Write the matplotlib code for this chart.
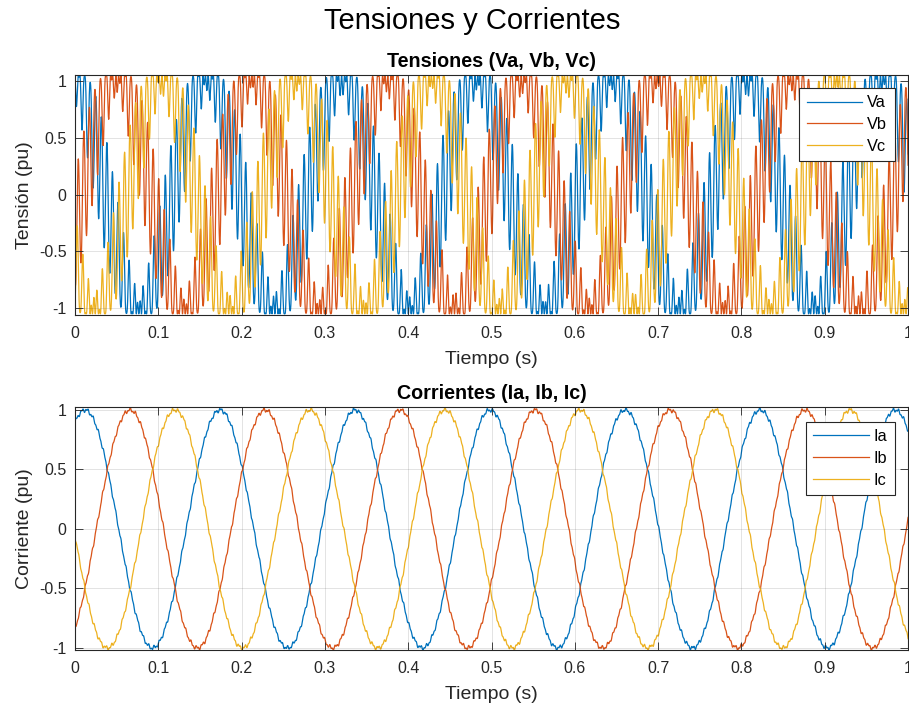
import numpy as np
import matplotlib.pyplot as plt

plt.rcParams["font.family"] = ["Liberation Sans", "DejaVu Sans"]
plt.rcParams["axes.unicode_minus"] = False

# signal description (1 s record)
n_samples = 10001
f_fund = 6.17              # Hz, apparent fundamental
va_peak_time = -0.004      # s, first Va maximum
ia_peak_time = 0.012       # s, first Ia maximum
phase_offsets_deg = [0, -120, 120]

v_amp = 1.05
v_wobble_amp = 0.52        # rad, fast phase wobble on V
v_wobble_freq = 150.0      # Hz

i_amp = 1.0
i_ripple_amp = [0.012, 0.009]
i_ripple_freq = [150.0, 330.0]   # Hz

v_labels = ["Va", "Vb", "Vc"]
i_labels = ["Ia", "Ib", "Ic"]

x_ticks = [0, 0.1, 0.2, 0.3, 0.4, 0.5, 0.6, 0.7, 0.8, 0.9, 1.0]
x_tick_labels = ["0", "0.1", "0.2", "0.3", "0.4", "0.5", "0.6", "0.7", "0.8", "0.9", "1"]
y_ticks = [-1, -0.5, 0, 0.5, 1]
y_tick_labels = ["-1", "-0.5", "0", "0.5", "1"]

colors = ["#0072BD", "#D95319", "#EDB120"]
dark = "#262626"

t = np.linspace(0, 1, n_samples)

volts = []
currents = []
for k, off in enumerate(phase_offsets_deg):
    ph = np.deg2rad(off)
    wobble = v_wobble_amp * np.sin(2 * np.pi * v_wobble_freq * t + ph)
    volts.append(v_amp * np.cos(2 * np.pi * f_fund * (t - va_peak_time) + ph + wobble))
    rip = sum(a * np.sin(2 * np.pi * f * t + 2.1 * k)
              for a, f in zip(i_ripple_amp, i_ripple_freq))
    currents.append(i_amp * np.cos(2 * np.pi * f_fund * (t - ia_peak_time) + ph) + rip)


def style_axes(ax, ylabel, title, ylim):
    ax.set_xlim(0, 1)
    ax.set_ylim(*ylim)
    ax.set_xticks(x_ticks)
    ax.set_xticklabels(x_tick_labels)
    ax.set_yticks(y_ticks)
    ax.set_yticklabels(y_tick_labels)
    ax.tick_params(direction="in", top=True, right=True, length=6, width=0.6,
                   color=dark, labelcolor=dark, labelsize=11.5)
    ax.tick_params(axis="x", pad=8)
    ax.tick_params(axis="y", pad=6)
    for s in ax.spines.values():
        s.set_color(dark)
        s.set_linewidth(0.8)
    ax.set_axisbelow(False)
    ax.grid(True, color=dark, alpha=0.15, lw=0.6)
    ax.set_xlabel("Tiempo (s)", fontsize=14, color=dark, labelpad=7)
    ax.set_ylabel(ylabel, fontsize=14, color=dark, labelpad=4)
    ax.set_title(title, fontsize=14.2, fontweight="bold", pad=5.5)


fig = plt.figure(figsize=(9.09, 7.07), dpi=100)
ax1 = fig.add_axes([0.0825, 0.5545, 0.9165, 0.3395])
ax2 = fig.add_axes([0.0825, 0.0806, 0.9165, 0.3437])

for k in range(3):
    ax1.plot(t, volts[k], color=colors[k], lw=0.9, label=v_labels[k])
    ax2.plot(t, currents[k], color=colors[k], lw=0.9, label=i_labels[k])

style_axes(ax1, "Tensión (pu)", "Tensiones (Va, Vb, Vc)", (-1.06, 1.053))
style_axes(ax2, "Corriente (pu)", "Corrientes (Ia, Ib, Ic)", (-1.017, 1.025))

leg_kw = dict(loc="upper right", fontsize=11.8, fancybox=False, framealpha=1,
              edgecolor=dark, handlelength=3.4, handletextpad=0.3,
              borderpad=0.45, labelspacing=0.42, borderaxespad=0)
l1 = ax1.legend(bbox_to_anchor=(0.984, 0.946), **leg_kw)
l2 = ax2.legend(bbox_to_anchor=(0.984, 0.94), **leg_kw)
for lg in (l1, l2):
    lg.get_frame().set_linewidth(0.8)

fig.text(0.52, 0.9586, "Tensiones y Corrientes", fontsize=21, ha="center",
         va="baseline", color="black")

fig.savefig("out.png", dpi=100)
